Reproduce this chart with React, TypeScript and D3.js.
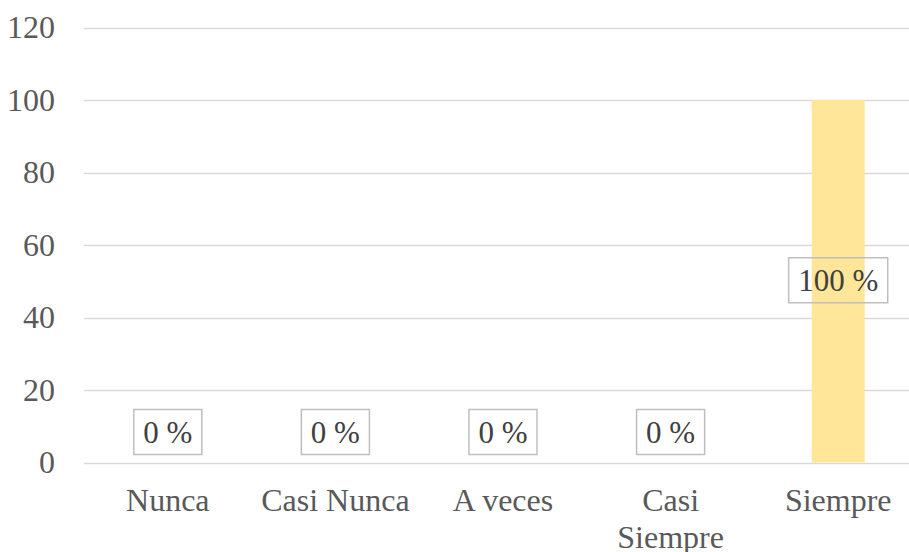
//@ts-nocheck
import React, { useEffect, useRef } from "react";
import * as d3 from "d3";

const categories = ["Nunca", "Casi Nunca", "A veces", "Casi Siempre", "Siempre"];
const values = [0, 0, 0, 0, 100];
const labels = ["0 %", "0 %", "0 %", "0 %", "100 %"];
const yTicks = [0, 20, 40, 60, 80, 100, 120];

const W = 909;
const H = 552;

export default function App() {
  const ref = useRef<SVGSVGElement>(null);

  useEffect(() => {
    const svg = d3.select(ref.current);
    svg.selectAll("*").remove();

    const x = d3.scaleBand().domain(categories).range([84, 922]).paddingInner(0).paddingOuter(0);
    const y = d3.scaleLinear().domain([0, 120]).range([462.5, 27.5]);
    const barW = x.bandwidth() * 0.316;
    const font = "'Liberation Serif', 'Times New Roman', serif";

    // gridlines
    svg
      .append("g")
      .selectAll("line")
      .data(yTicks)
      .join("line")
      .attr("x1", 84)
      .attr("x2", W)
      .attr("y1", (d) => Math.round(y(d)) + 0.5)
      .attr("y2", (d) => Math.round(y(d)) + 0.5)
      .attr("stroke", "#d9d9d9")
      .attr("stroke-width", 1.5);

    // y tick labels
    svg
      .append("g")
      .selectAll("text")
      .data(yTicks)
      .join("text")
      .attr("x", 55)
      .attr("y", (d) => y(d))
      .attr("dy", "0.34em")
      .attr("text-anchor", "end")
      .attr("font-family", font)
      .attr("font-size", 32)
      .attr("fill", "#595959")
      .text((d) => d);

    // bars
    svg
      .append("g")
      .selectAll("rect")
      .data(values)
      .join("rect")
      .attr("x", (d, i) => x(categories[i]) + x.bandwidth() / 2 - barW / 2)
      .attr("width", barW)
      .attr("y", (d) => y(d))
      .attr("height", (d) => y(0) - y(d))
      .attr("fill", "#ffe699");

    // x labels with wrapping
    const xg = svg.append("g");
    categories.forEach((c) => {
      const t = xg
        .append("text")
        .attr("x", x(c) + x.bandwidth() / 2)
        .attr("y", 511)
        .attr("text-anchor", "middle")
        .attr("font-family", font)
        .attr("font-size", 32)
        .attr("fill", "#595959");
      const words = c.split(" ");
      let line: string[] = [];
      let lineNo = 0;
      let ts = t.append("tspan").attr("x", x(c) + x.bandwidth() / 2).attr("y", 511);
      words.forEach((w) => {
        line.push(w);
        ts.text(line.join(" "));
        if (ts.node().getComputedTextLength() > x.bandwidth() - 4 && line.length > 1) {
          line.pop();
          ts.text(line.join(" "));
          line = [w];
          lineNo++;
          ts = t
            .append("tspan")
            .attr("x", x(c) + x.bandwidth() / 2)
            .attr("y", 511 + lineNo * 37)
            .text(w);
        }
      });
    });

    // data labels with boxes
    const lg = svg.append("g");
    values.forEach((v, i) => {
      const cx = x(categories[i]) + x.bandwidth() / 2;
      const cy = v === 0 ? 432 : (y(v) + y(0)) / 2 - 1;
      const t = lg
        .append("text")
        .attr("x", cx)
        .attr("y", cy)
        .attr("dy", "0.34em")
        .attr("text-anchor", "middle")
        .attr("font-family", font)
        .attr("font-size", 31)
        .attr("fill", "#404040")
        .text(labels[i]);
      const w = t.node().getComputedTextLength();
      lg.insert("rect", "text")
        .attr("x", cx - w / 2 - 9.5)
        .attr("y", cy - 22.5)
        .attr("width", w + 19)
        .attr("height", 45)
        .attr("fill", "none")
        .attr("stroke", "#bfbfbf")
        .attr("stroke-width", 1.5);
    });
  }, []);

  return (
    <svg
      ref={ref}
      width={W}
      height={H}
      style={{ position: "absolute", left: 0, top: 0, background: "#fff" }}
    />
  );
}
